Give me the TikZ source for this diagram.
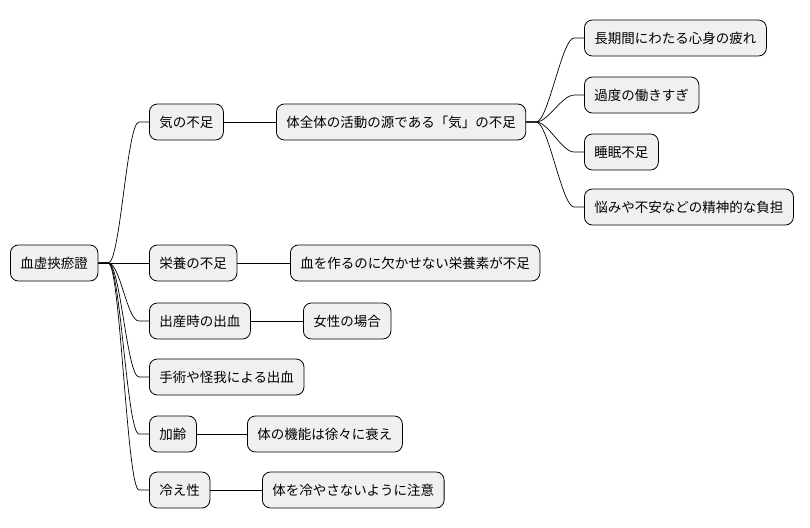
\documentclass[tikz,border=0pt]{standalone}
\usepackage{fontspec}
\setmainfont{Noto Sans CJK JP}
\usetikzlibrary{calc}
\begin{document}
\begin{tikzpicture}[x=1pt,y=-1pt,
  box/.style={draw=black,line width=0.8pt,fill=black!6,rounded corners=8pt,minimum height=36pt,inner xsep=10pt,anchor=west,font=\fontsize{13.5}{16}\selectfont},
  link/.style={line width=0.7pt}]
\useasboundingbox (0,0) rectangle (810,527);
\node[box] (r) at (10,263) {血虚挾瘀證};
\node[box] (a) at (149,122) {気の不足};
\node[box] (a1) at (276,122) {体全体の活動の源である「気」の不足};
\node[box] (a11) at (584,38) {長期間にわたる心身の疲れ};
\node[box] (a12) at (584,95) {過度の働きすぎ};
\node[box] (a13) at (584,152) {睡眠不足};
\node[box] (a14) at (584,207) {悩みや不安などの精神的な負担};
\node[box] (b) at (149,263) {栄養の不足};
\node[box] (b1) at (290,263) {血を作るのに欠かせない栄養素が不足};
\node[box] (c) at (149,321) {出産時の出血};
\node[box] (c1) at (303,321) {女性の場合};
\node[box] (d) at (149,377) {手術や怪我による出血};
\node[box] (e) at (149,434) {加齢};
\node[box] (e1) at (247,434) {体の機能は徐々に衰え};
\node[box] (f) at (149,490) {冷え性};
\node[box] (f1) at (262,490) {体を冷やさないように注意};
\foreach \p/\c in {r/a,r/d,r/c,r/e,r/f,a1/a11,a1/a12,a1/a13,a1/a14}{
  \draw[link] (\p.east) -- ($(\p.east)+(10,0)$) .. controls ($(\p.east)+(22,0)$) and ($(\c.west)+(-22,0)$) .. ($(\c.west)+(-10,0)$) -- (\c.west);
}
\foreach \p/\c in {r/b,a/a1,b/b1,c/c1,e/e1,f/f1}{
  \draw[link] (\p.east) -- (\c.west);
}
\end{tikzpicture}
\end{document}
